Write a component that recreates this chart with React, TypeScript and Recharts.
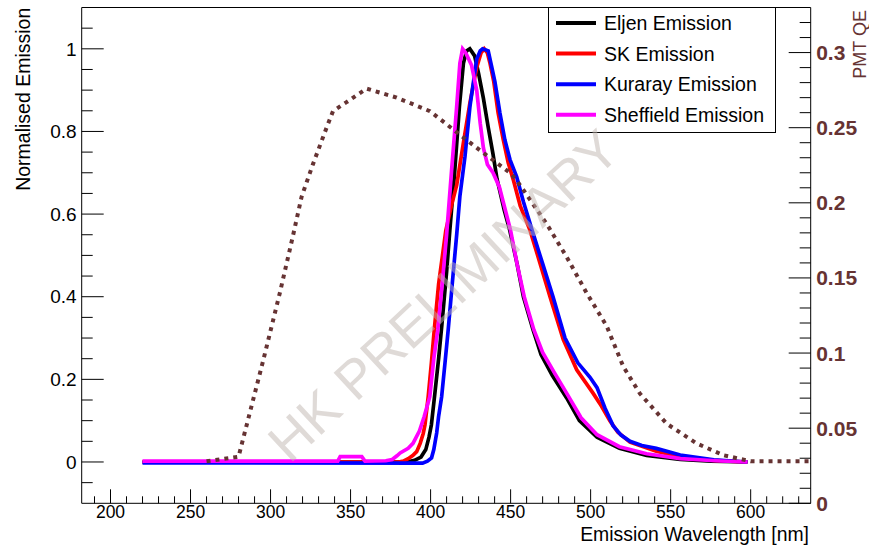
import React from 'react';
import { LineChart, Line, XAxis, YAxis, Legend, ReferenceArea } from 'recharts';

const FONT = '"Liberation Sans", Arial, Helvetica, sans-serif';
const BROWN = '#663333';

// ---- Data ----
const eljenW = [220, 385, 390, 394, 397, 399, 400.5, 402.5, 405, 407, 410, 412, 415, 418, 420.5, 422.5, 424.5, 427.5, 430, 433, 436, 439, 441.5, 446, 449.5, 454, 458, 464, 469, 476, 485, 493, 504, 518, 535, 556, 575, 598];
const eljenV = [0, 0, 0.004, 0.012, 0.03, 0.06, 0.09, 0.16, 0.25, 0.33, 0.46, 0.56, 0.7, 0.86, 0.965, 0.995, 1.0, 0.983, 0.94, 0.88, 0.81, 0.745, 0.685, 0.61, 0.56, 0.48, 0.4, 0.32, 0.26, 0.21, 0.155, 0.1, 0.06, 0.033, 0.016, 0.006, 0.002, 0];

const skW = [220, 380, 383, 386, 389, 391.3, 393.5, 395.4, 396.5, 398.5, 400.5, 402.3, 405, 409.5, 413, 416.3, 420.4, 424.6, 428.8, 431.5, 433.5, 435.5, 437, 439.5, 442.2, 445.4, 448.5, 451.6, 456, 462, 468.3, 474.6, 482.9, 491.3, 501.6, 506, 512, 517, 524.6, 541, 556, 577, 598];
const skV = [0, 0, 0.002, 0.008, 0.016, 0.025, 0.045, 0.069, 0.09, 0.158, 0.24, 0.32, 0.43, 0.56, 0.62, 0.67, 0.77, 0.87, 0.955, 0.99, 1.0, 0.99, 0.967, 0.92, 0.845, 0.78, 0.724, 0.684, 0.62, 0.562, 0.482, 0.4, 0.296, 0.223, 0.166, 0.14, 0.1, 0.072, 0.048, 0.026, 0.013, 0.004, 0];

const kurarayW = [220, 395, 398, 400.6, 402, 403.8, 405, 406.9, 409, 411, 413.5, 416.3, 418.3, 421.5, 424.6, 428.8, 431, 432.5, 436, 438.1, 440.2, 443.3, 446.4, 449.6, 453.8, 458, 463.5, 470, 476.5, 484, 492, 499.6, 504, 509, 514, 519, 524.6, 532, 541, 556, 577, 598];
const kurarayV = [-0.002, -0.003, 0.002, 0.01, 0.03, 0.07, 0.11, 0.158, 0.24, 0.32, 0.43, 0.55, 0.643, 0.74, 0.861, 0.975, 0.995, 1.0, 0.995, 0.958, 0.92, 0.845, 0.78, 0.732, 0.69, 0.63, 0.56, 0.48, 0.4, 0.3, 0.24, 0.205, 0.18, 0.13, 0.088, 0.065, 0.05, 0.04, 0.033, 0.017, 0.005, 0];

const sheffieldW = [220, 342, 343.5, 357, 359, 372, 376, 379, 381, 386, 389, 393, 396, 399.5, 402, 404.5, 407, 410, 413, 416.3, 418.3, 420, 422, 425.6, 428.8, 431, 433, 435.5, 439, 443, 446, 450, 454, 458.5, 464.5, 470, 477.5, 486, 494, 504, 518, 535, 556, 578, 598];
const sheffieldV = [0.002, 0.002, 0.013, 0.013, 0.002, 0.003, 0.006, 0.015, 0.022, 0.033, 0.045, 0.075, 0.11, 0.158, 0.25, 0.32, 0.42, 0.55, 0.7, 0.86, 0.965, 1.0, 0.99, 0.96, 0.9, 0.82, 0.76, 0.72, 0.7, 0.665, 0.62, 0.56, 0.48, 0.4, 0.32, 0.265, 0.215, 0.16, 0.107, 0.066, 0.037, 0.02, 0.008, 0.003, 0];

const qeW = [260, 280, 295.4, 305.8, 314, 319.4, 326.6, 335, 339, 347.5, 360, 378.8, 399.6, 416.3, 430.8, 449.6, 453.8, 472.5, 485, 497.5, 510, 520.4, 530.8, 547.5, 566, 583, 600, 637.5];
const qeV = [0.028, 0.031, 0.095, 0.14, 0.178, 0.204, 0.226, 0.25, 0.261, 0.267, 0.276, 0.27, 0.261, 0.247, 0.235, 0.22, 0.215, 0.186, 0.164, 0.14, 0.118, 0.091, 0.073, 0.053, 0.04, 0.032, 0.028, 0.028];

const legendNames = ['Eljen Emission', 'SK Emission', 'Kuraray Emission', 'Sheffield Emission'];

// ---- Ticks ----
const xTicks = [190, 200, 210, 220, 230, 240, 250, 260, 270, 280, 290, 300, 310, 320, 330, 340, 350, 360, 370, 380, 390, 400, 410, 420, 430, 440, 450, 460, 470, 480, 490, 500, 510, 520, 530, 540, 550, 560, 570, 580, 590, 600, 610, 620, 630];
const xMajor = [200, 250, 300, 350, 400, 450, 500, 550, 600];
const leftTicks = [-0.05, 0, 0.05, 0.1, 0.15, 0.2, 0.25, 0.3, 0.35, 0.4, 0.45, 0.5, 0.55, 0.6, 0.65, 0.7, 0.75, 0.8, 0.85, 0.9, 0.95, 1, 1.05];
const leftMajor = [0, 0.2, 0.4, 0.6, 0.8, 1];
const rightTicks = [0, 0.01, 0.02, 0.03, 0.04, 0.05, 0.06, 0.07, 0.08, 0.09, 0.1, 0.11, 0.12, 0.13, 0.14, 0.15, 0.16, 0.17, 0.18, 0.19, 0.2, 0.21, 0.22, 0.23, 0.24, 0.25, 0.26, 0.27, 0.28, 0.29, 0.3, 0.31, 0.32];
const rightMajor = [0, 0.05, 0.1, 0.15, 0.2, 0.25, 0.3];

const xDomain = [182, 637.5];
const leftDomain = [-0.1, 1.1];
const rightDomain = [0, 0.33];

const toPoints = (w: number[], v: number[], key: string) => w.map((x, i) => ({ w: x, [key]: v[i] }));
const eljenData = toPoints(eljenW, eljenV, 'v');
const skData = toPoints(skW, skV, 'v');
const kurarayData = toPoints(kurarayW, kurarayV, 'v');
const sheffieldData = toPoints(sheffieldW, sheffieldV, 'v');
const qeData = toPoints(qeW, qeV, 'q');

const isIn = (arr: number[], v: number) => arr.some((m) => Math.abs(m - v) < 1e-9);

const XTick = (props: any) => {
  const { x, y, payload } = props;
  const v = payload.value;
  const major = isIn(xMajor, v);
  return (
    <g>
      <line x1={x} x2={x} y1={y} y2={y - (major ? 14 : 7)} stroke="#000" strokeWidth={1} />
      {major && (
        <text x={x} y={y + 14.5} textAnchor="middle" fontSize={17.5} fontFamily={FONT} fill="#000">
          {String(v)}
        </text>
      )}
    </g>
  );
};

const LTick = (props: any) => {
  const { x, y, payload } = props;
  const v = payload.value;
  const major = isIn(leftMajor, v);
  return (
    <g>
      <line x1={x} x2={x + (major ? 22 : 11)} y1={y} y2={y} stroke="#000" strokeWidth={1} />
      {major && (
        <text x={x - 5} y={y + 6.7} textAnchor="end" fontSize={19} fontFamily={FONT} fill="#000">
          {String(v)}
        </text>
      )}
    </g>
  );
};

const RTick = (props: any) => {
  const { x, y, payload } = props;
  const v = payload.value;
  const major = isIn(rightMajor, v);
  return (
    <g>
      <line x1={x} x2={x - (major ? 22 : 11)} y1={y} y2={y} stroke="#000" strokeWidth={1} />
      {major && (
        <text x={x + 5.5} y={y + 7.5} textAnchor="start" fontSize={21} fontWeight="bold" fontFamily={FONT} fill={BROWN}>
          {String(v)}
        </text>
      )}
    </g>
  );
};

const LegendBox = (props: any) => {
  const payload = props.payload || [];
  const items = legendNames
    .map((n) => payload.find((p: any) => p.value === n))
    .filter((p: any) => p);
  return (
    <svg width={228} height={126} style={{ display: 'block' }}>
      <rect x={0.5} y={0.5} width={227} height={125} fill="#fff" stroke="#000" strokeWidth={1} />
      {items.map((it: any, i: number) => {
        const cy = 16 + i * 30.6;
        return (
          <g key={it.value}>
            <line x1={8} x2={48} y1={cy} y2={cy} stroke={it.color} strokeWidth={4} />
            <text x={56} y={cy + 7.2} fontSize={19.5} fontFamily={FONT} fill="#000">
              {it.value}
            </text>
          </g>
        );
      })}
    </svg>
  );
};

export default function App() {
  return (
    <div style={{ position: 'absolute', left: 0, top: 0, width: 869, height: 546, background: '#fff' }}>
      <LineChart width={869} height={546} margin={{ top: 7.5, right: 57.3, bottom: 41.7, left: 80.7 }}>
        <XAxis
          type="number"
          dataKey="w"
          domain={xDomain}
          allowDataOverflow
          ticks={xTicks}
          interval={0}
          height={1}
          tickSize={0}
          tickMargin={0}
          axisLine={false}
          tickLine={false}
          tick={(p: any) => <XTick {...p} />}
        />
        <YAxis
          yAxisId="left"
          type="number"
          domain={leftDomain}
          allowDataOverflow
          ticks={leftTicks}
          interval={0}
          width={1}
          tickSize={0}
          tickMargin={0}
          axisLine={false}
          tickLine={false}
          tick={(p: any) => <LTick {...p} />}
        />
        <YAxis
          yAxisId="right"
          orientation="right"
          type="number"
          domain={rightDomain}
          allowDataOverflow
          ticks={rightTicks}
          interval={0}
          width={1}
          tickSize={0}
          tickMargin={0}
          axisLine={false}
          tickLine={false}
          tick={(p: any) => <RTick {...p} />}
        />
        <ReferenceArea
          yAxisId="left"
          x1={xDomain[0]}
          x2={xDomain[1]}
          y1={leftDomain[0]}
          y2={leftDomain[1]}
          fill="none"
          fillOpacity={0}
          stroke="#000"
          strokeWidth={1}
        />
        <Line data={eljenData} dataKey="v" name="Eljen Emission" yAxisId="left" type="linear" stroke="#000000" strokeWidth={3.7} dot={false} activeDot={false} isAnimationActive={false} />
        <Line data={skData} dataKey="v" name="SK Emission" yAxisId="left" type="linear" stroke="#ff0000" strokeWidth={3.7} dot={false} activeDot={false} isAnimationActive={false} />
        <Line data={kurarayData} dataKey="v" name="Kuraray Emission" yAxisId="left" type="linear" stroke="#0000ff" strokeWidth={3.7} dot={false} activeDot={false} isAnimationActive={false} />
        <Line data={sheffieldData} dataKey="v" name="Sheffield Emission" yAxisId="left" type="linear" stroke="#ff00ff" strokeWidth={3.7} dot={false} activeDot={false} isAnimationActive={false} />
        <Line data={qeData} dataKey="q" name="PMT QE" yAxisId="right" type="linear" stroke={BROWN} strokeWidth={4} strokeDasharray="4 5" strokeLinecap="butt" dot={false} activeDot={false} legendType="none" isAnimationActive={false} />
        <Legend
          layout="vertical"
          align="center"
          verticalAlign="middle"
          wrapperStyle={{ left: 548, top: 7, width: 228, height: 126 }}
          content={(p: any) => <LegendBox payload={p.payload} />}
        />
      </LineChart>
      <svg width={869} height={546} style={{ position: 'absolute', left: 0, top: 0, pointerEvents: 'none' }}>
        <text
          transform="translate(443,295) rotate(-43)"
          textAnchor="middle"
          dy="0.36em"
          fontSize={54}
          fontFamily={FONT}
          fill="#bfb6b0"
          fillOpacity={0.5}
        >
          HK PRELIMINARY
        </text>
        <text transform="translate(29.5,7.7) rotate(-90)" textAnchor="end" fontSize={19.5} fontFamily={FONT} fill="#000">
          Normalised Emission
        </text>
        <text transform="translate(866,10) rotate(-90)" textAnchor="end" fontSize={18} fontFamily={FONT} fill={BROWN}>
          PMT QE
        </text>
        <text x={809} y={540.5} textAnchor="end" fontSize={19.4} fontFamily={FONT} fill="#000">
          Emission Wavelength [nm]
        </text>
      </svg>
    </div>
  );
}
